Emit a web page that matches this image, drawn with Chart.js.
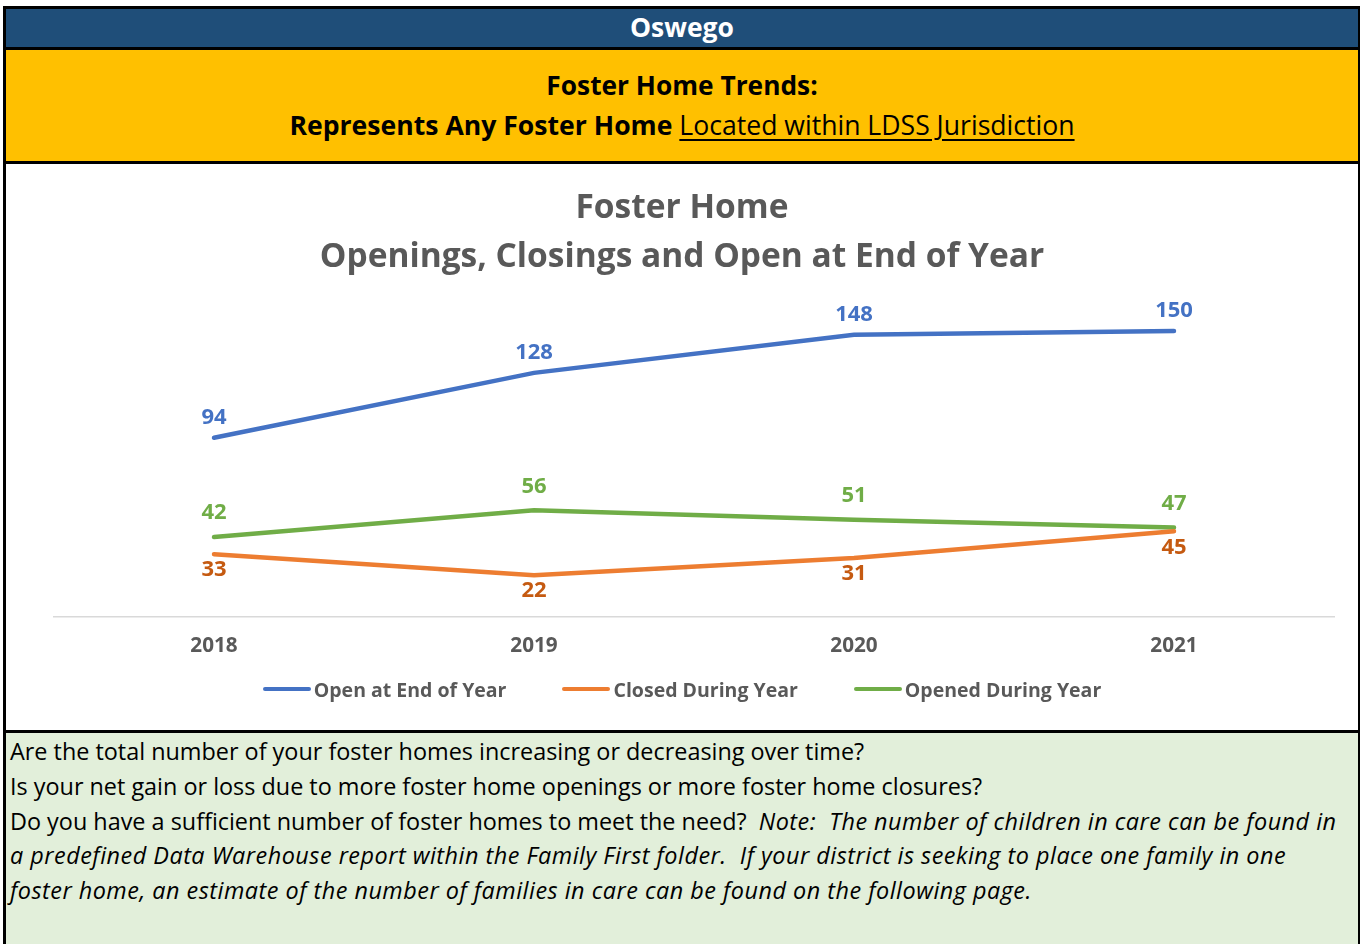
<!DOCTYPE html>
<html>
<head>
<meta charset="utf-8">
<script src="https://cdn.jsdelivr.net/npm/chart.js@4/dist/chart.umd.min.js"></script>
<style>
  html, body { margin: 0; padding: 0; background: #fff; }
  body { width: 1360px; height: 944px; overflow: hidden; font-family: 'Open Sans', sans-serif; }
  .frame { position: absolute; left: 3px; top: 6px; width: 1352px; height: 940px; border-left: 3px solid #000; border-top: 3px solid #000; border-right: 2px solid #000; }
  .district { height: 38px; background: #1F4E79; color: #fff; font-weight: bold; font-size: 26.5px; text-align: center; line-height: 36px; border-bottom: 3px solid #000; }
  .banner { height: 111px; background: #FFC000; color: #000; font-weight: bold; font-size: 26.3px; text-align: center; border-bottom: 3px solid #000; }
  .banner div { line-height: 40px; }
  .banner .l1 { padding-top: 15px; }
  .banner .l2 { font-size: 26.6px; }
  .banner u { font-weight: normal; text-underline-offset: 4px; }
  .chartbox { position: relative; height: 566px; background: #fff; border-bottom: 3px solid #000; }
  .legend { position: absolute; left: 0; right: 0; top: 512px; height: 26px; display: flex; justify-content: center; align-items: center; gap: 56px; font-weight: bold; font-size: 19.5px; color: #595959; }
  .legend .item { display: flex; align-items: center; gap: 3px; }
  .legend .swatch { width: 48px; height: 4.5px; border-radius: 2px; }
  .questions { background: #E2EFDA; height: 220px; font-size: 23.4px; color: #000; padding: 1px 0 0 4px; line-height: 34.8px; white-space: nowrap; }
  .questions i { letter-spacing: 0.5px; }
</style>
</head>
<body>
<div class="frame">
  <div class="district">Oswego</div>
  <div class="banner">
    <div class="l1">Foster Home Trends:</div>
    <div class="l2">Represents Any Foster Home <u>Located within LDSS Jurisdiction</u></div>
  </div>
  <div class="chartbox"><canvas id="chart"></canvas><div class="legend" id="legend"></div></div>
  <div class="questions">
    <div>Are the total number of your foster homes increasing or decreasing over time?</div>
    <div>Is your net gain or loss due to more foster home openings or more foster home closures?</div>
    <div>Do you have a sufficient number of foster homes to meet the need?&nbsp; <i>Note:&nbsp; The number of children in care can be found in</i></div>
    <div><i>a predefined Data Warehouse report within the Family First folder.&nbsp; If your district is seeking to place one family in one</i></div>
    <div><i>foster home, an estimate of the number of families in care can be found on the following page.</i></div>
  </div>
</div>
<script>
const years = ['2018', '2019', '2020', '2021'];
const openAtEnd = [94, 128, 148, 150];
const closedDuring = [33, 22, 31, 45];
const openedDuring = [42, 56, 51, 47];

const gray = '#595959';
const font = "'Open Sans', sans-serif";

// value labels above / below each point
const pointLabels = {
    id: 'pointLabels',
    afterDatasetsDraw(chart) {
        const ctx = chart.ctx;
        chart.data.datasets.forEach((ds, i) => {
            const meta = chart.getDatasetMeta(i);
            ctx.save();
            ctx.font = `bold 22px ${font}`;
            ctx.fillStyle = ds.labelColor;
            ctx.textAlign = 'center';
            ctx.textBaseline = 'middle';
            meta.data.forEach((pt, j) => {
                ctx.fillText(ds.data[j], pt.x, pt.y + ds.labelOffset);
            });
            ctx.restore();
        });
    }
};

// legend built from chart's own legend items
const htmlLegend = {
    id: 'htmlLegend',
    afterUpdate(chart) {
        const box = document.getElementById('legend');
        box.innerHTML = '';
        const items = chart.options.plugins.legend.labels.generateLabels(chart);
        items.forEach(item => {
            const el = document.createElement('div');
            el.className = 'item';
            const sw = document.createElement('span');
            sw.className = 'swatch';
            sw.style.background = item.strokeStyle;
            const txt = document.createElement('span');
            txt.textContent = item.text;
            el.appendChild(sw);
            el.appendChild(txt);
            box.appendChild(el);
        });
    }
};

new Chart(document.getElementById('chart'), {
    type: 'line',
    data: {
        labels: years,
        datasets: [
            { label: 'Open at End of Year', data: openAtEnd, borderColor: '#4472C4', backgroundColor: '#4472C4', labelColor: '#4472C4', labelOffset: -20 },
            { label: 'Closed During Year', data: closedDuring, borderColor: '#ED7D31', backgroundColor: '#ED7D31', labelColor: '#C55A11', labelOffset: 16 },
            { label: 'Opened During Year', data: openedDuring, borderColor: '#70AD47', backgroundColor: '#70AD47', labelColor: '#70AD47', labelOffset: -24 }
        ]
    },
    options: {
        responsive: true,
        maintainAspectRatio: false,
        animation: false,
        elements: {
            line: { borderWidth: 4.5, tension: 0, borderCapStyle: 'round' },
            point: { radius: 0, hoverRadius: 0 }
        },
        layout: { padding: { left: 24, right: 24, top: 20, bottom: 54 } },
        plugins: {
            title: {
                display: true,
                text: ['Foster Home', 'Openings, Closings and Open at End of Year'],
                color: gray,
                font: { family: font, size: 33.5, weight: 'bold', lineHeight: 1.46 },
                padding: { top: 0, bottom: 30 }
            },
            legend: { display: false },
            tooltip: { enabled: false }
        },
        scales: {
            x: {
                offset: true,
                grid: { display: false, drawTicks: false },
                border: { color: '#D9D9D9', width: 1.5 },
                ticks: { color: gray, font: { family: font, size: 20.7, weight: 'bold' }, padding: 17 }
            },
            y: {
                min: 0,
                max: 160,
                grid: { display: false, drawTicks: false },
                border: { display: false },
                ticks: { display: false },
                afterFit(scale) { scale.width = 24; }
            }
        }
    },
    plugins: [pointLabels, htmlLegend]
});
</script>
</body>
</html>
